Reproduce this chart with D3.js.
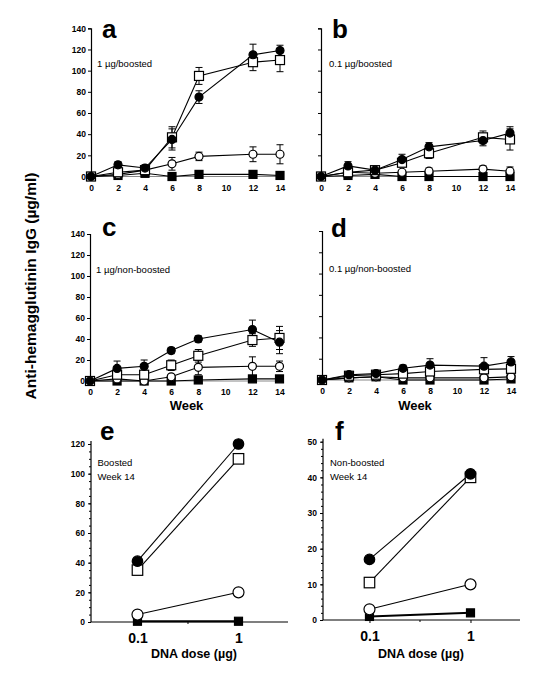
<!DOCTYPE html>
<html><head><meta charset="utf-8">
<script src="https://cdn.jsdelivr.net/npm/d3@7"></script>
<style>body{margin:0;background:#fff}svg{display:block}text{font-family:"Liberation Sans",Arial,sans-serif}</style>
</head><body>
<script>
// ---------- DATA ----------
const weeks = [0, 2, 4, 6, 8, 12, 14];
const weekTicks = [0, 2, 4, 6, 8, 10, 12, 14];
const yTicksTime = [0, 20, 40, 60, 80, 100, 120, 140];

// panel a: 1 ug / boosted
const aFilledCircle = [0, 11, 8, 35, 75, 115, 119];
const aFilledCircleErr = [0, 3, 3, 10, 6, 10, 5];
const aOpenSquare = [0, 4, 6, 37, 95, 108, 110];
const aOpenSquareErr = [0, 2, 2, 10, 8, 8, 11];
const aOpenCircle = [0, 2, 6, 12, 19, 21, 21];
const aOpenCircleErr = [0, 1, 2, 6, 4, 7, 9];
const aFilledSquare = [0, 1, 3, 0, 2, 2, 1];

// panel b: 0.1 ug / boosted
const bFilledCircle = [0, 10, 6, 16, 28, 34, 41];
const bFilledCircleErr = [0, 4, 3, 5, 4, 5, 6];
const bOpenSquare = [0, 4, 6, 13, 22, 37, 35];
const bOpenSquareErr = [0, 2, 2, 3, 5, 6, 10];
const bOpenCircle = [0, 4, 3, 4, 5, 7, 5];
const bOpenCircleErr = [0, 1, 1, 1, 3, 3, 4];
const bFilledSquare = [0, 1, 2, 0, 0, 0, 0];

// panel c: 1 ug / non-boosted
const cFilledCircle = [0, 12, 14, 29, 40, 49, 37];
const cFilledCircleErr = [0, 7, 6, 3, 3, 9, 11];
const cOpenSquare = [0, 6, 6, 15, 24, 39, 41];
const cOpenSquareErr = [0, 2, 3, 5, 6, 6, 11];
const cOpenCircle = [0, 2, 0, 4, 13, 14, 14];
const cOpenCircleErr = [0, 1, 1, 2, 7, 9, 5];
const cFilledSquare = [0, 0, 0, 0, 1, 2, 2];

// panel d: 0.1 ug / non-boosted
const dFilledCircle = [0, 5, 6, 11, 14, 13, 17];
const dFilledCircleErr = [0, 3, 3, 3, 6, 8, 5];
const dOpenSquare = [0, 4, 5, 6, 8, 10, 10.5];
const dOpenSquareErr = [0, 4, 2, 2, 3, 4, 3];
const dOpenCircle = [0, 2, 3, 2, 2, 2, 3];
const dOpenCircleErr = [0, 1, 1, 1, 1, 1, 1];
const dFilledSquare = [0, 2, 3, 0, 0, 0, 1];

// panels e/f: week 14 vs DNA dose
const doses = [0.1, 1];
const doseTicks = [0.1, 1];
const eFilledCircle = [41, 120];
const eOpenSquare = [35, 110];
const eOpenCircle = [5, 20];
const eFilledSquare = [0.5, 0.5];
const eYTicks = [0, 20, 40, 60, 80, 100, 120];
const fFilledCircle = [17, 41];
const fOpenSquare = [10.5, 40];
const fOpenCircle = [3, 10];
const fFilledSquare = [1, 2];
const fYTicks = [0, 10, 20, 30, 40, 50];

// ---------- DRAW ----------
const svg = d3.select("body").append("svg").attr("width", 535).attr("height", 682);
svg.append("rect").attr("width", 535).attr("height", 682).attr("fill", "#fff");

function marker(g, type, cx, cy, size) {
  if (type === "fc" || type === "oc") {
    g.append("circle").attr("cx", cx).attr("cy", cy).attr("r", size / 2)
      .attr("fill", type === "fc" ? "#000" : "#fff").attr("stroke", "#000").attr("stroke-width", 1.2);
  } else {
    g.append("rect").attr("x", cx - size / 2).attr("y", cy - size / 2).attr("width", size).attr("height", size)
      .attr("fill", type === "fs" ? "#000" : "#fff").attr("stroke", "#000").attr("stroke-width", 1.2);
  }
}

function timePanel(p) {
  const g = svg.append("g");
  const x = d3.scaleLinear().domain([0, 14]).range([p.x0, p.x1]);
  const y = d3.scaleLinear().domain([0, 140]).range([p.y0, p.yTop]);
  g.append("line").attr("x1", x(0)).attr("x2", x(14)).attr("y1", y(0)).attr("y2", y(0))
    .attr("stroke", "#888").attr("stroke-width", 1);
  const yAx = d3.axisLeft(y).tickValues(yTicksTime).tickSize(3).tickFormat(p.yLabels ? d3.format("d") : "");
  const ya = g.append("g").attr("transform", `translate(${p.x0},0)`).call(yAx);
  ya.select(".domain").attr("stroke", "#000").attr("stroke-width", 1.2);
  ya.selectAll("text").attr("font-size", 8.5).attr("font-weight", "bold").attr("x", -5);
  const xAx = d3.axisBottom(x).tickValues(weekTicks).tickSize(0).tickPadding(8).tickFormat(d3.format("d"));
  const xa = g.append("g").attr("transform", `translate(0,${p.y0})`).call(xAx);
  xa.select(".domain").remove();
  xa.selectAll("text").attr("font-size", 8.5).attr("font-weight", "bold");
  const series = [
    {v: p.fs, e: null, t: "fs", s: 8},
    {v: p.oc, e: p.ocE, t: "oc", s: 8},
    {v: p.os, e: p.osE, t: "os", s: 9},
    {v: p.fc, e: p.fcE, t: "fc", s: 8}
  ];
  const line = d3.line().x((d, i) => x(weeks[i])).y(d => y(d));
  series.forEach(s => {
    g.append("path").attr("d", line(s.v)).attr("fill", "none").attr("stroke", "#000").attr("stroke-width", 1.1);
  });
  series.forEach(s => {
    if (s.e) {
      s.v.forEach((v, i) => {
        if (!s.e[i]) return;
        const cx = x(weeks[i]);
        const yt = y(v + s.e[i]), yb = y(Math.max(0, v - s.e[i]));
        g.append("line").attr("x1", cx).attr("x2", cx).attr("y1", yt).attr("y2", yb).attr("stroke", "#000").attr("stroke-width", 1);
        [yt, yb].forEach(yy => g.append("line").attr("x1", cx - 3.5).attr("x2", cx + 3.5).attr("y1", yy).attr("y2", yy).attr("stroke", "#000").attr("stroke-width", 1));
      });
    }
  });
  series.forEach(s => {
    s.v.forEach((v, i) => marker(g, s.t, x(weeks[i]), y(v), s.s));
  });
  g.append("text").attr("x", p.lx).attr("y", p.ly).attr("font-size", 26).attr("font-weight", "bold").text(p.letter);
  g.append("text").attr("x", p.tx).attr("y", p.ty).attr("font-size", 9.5).text(p.label);
}

timePanel({x0: 91, x1: 280, y0: 176.5, yTop: 28.3, yLabels: true,
  fc: aFilledCircle, fcE: aFilledCircleErr, os: aOpenSquare, osE: aOpenSquareErr,
  oc: aOpenCircle, ocE: aOpenCircleErr, fs: aFilledSquare,
  letter: "a", lx: 102, ly: 38, label: "1 \u00b5g/boosted", tx: 97, ty: 66.5});
timePanel({x0: 321, x1: 510, y0: 176.5, yTop: 28.3, yLabels: false,
  fc: bFilledCircle, fcE: bFilledCircleErr, os: bOpenSquare, osE: bOpenSquareErr,
  oc: bOpenCircle, ocE: bOpenCircleErr, fs: bFilledSquare,
  letter: "b", lx: 332, ly: 38, label: "0.1 \u00b5g/boosted", tx: 329, ty: 66.5});
timePanel({x0: 90, x1: 279.5, y0: 381, yTop: 234, yLabels: true,
  fc: cFilledCircle, fcE: cFilledCircleErr, os: cOpenSquare, osE: cOpenSquareErr,
  oc: cOpenCircle, ocE: cOpenCircleErr, fs: cFilledSquare,
  letter: "c", lx: 102, ly: 236, label: "1 \u00b5g/non-boosted", tx: 96, ty: 272.5});
timePanel({x0: 322, x1: 511, y0: 380, yTop: 231, yLabels: false,
  fc: dFilledCircle, fcE: dFilledCircleErr, os: dOpenSquare, osE: dOpenSquareErr,
  oc: dOpenCircle, ocE: dOpenCircleErr, fs: dFilledSquare,
  letter: "d", lx: 331, ly: 237, label: "0.1 \u00b5g/non-boosted", tx: 329, ty: 271.5});

svg.append("text").attr("x", 186.5).attr("y", 410).attr("text-anchor", "middle").attr("font-size", 13).attr("font-weight", "bold").text("Week");
svg.append("text").attr("x", 415).attr("y", 410).attr("text-anchor", "middle").attr("font-size", 13).attr("font-weight", "bold").text("Week");

function dosePanel(p) {
  const g = svg.append("g");
  const x = d3.scaleLog().domain([Math.pow(10, -1.46), Math.pow(10, 0.49)]).range([p.x0, p.x1]);
  const y = d3.scaleLinear().domain([0, p.yMax]).range([p.y0, p.yTop]);
  const minor = d3.range(0, p.yMax + 0.001, p.minor);
  g.append("g").attr("transform", `translate(${p.x0},0)`)
    .call(d3.axisLeft(y).tickValues(minor).tickSize(2).tickFormat(""))
    .select(".domain").remove();
  const ya = g.append("g").attr("transform", `translate(${p.x0},0)`)
    .call(d3.axisLeft(y).tickValues(p.ticks).tickSize(3).tickFormat(d3.format("d")));
  ya.select(".domain").attr("stroke", "#000").attr("stroke-width", 1.2)
    .attr("d", `M0,${y(0)}V${y(p.yMax) - 3}`);
  ya.selectAll("text").attr("font-size", 8.5).attr("font-weight", "bold").attr("x", -6);
  const xa = g.append("g").attr("transform", `translate(0,${p.y0})`)
    .call(d3.axisBottom(x).tickValues(doseTicks).tickSize(3).tickPadding(8).tickFormat(d => d === 1 ? "1" : "0.1"));
  xa.select(".domain").attr("stroke", "#000").attr("stroke-width", 1.2).attr("d", `M${p.x0},0H${p.x1}`);
  xa.selectAll("text").attr("font-size", 14).attr("font-weight", "bold");
  xa.append("line").attr("x1", x(Math.sqrt(0.1))).attr("x2", x(Math.sqrt(0.1))).attr("y1", 0).attr("y2", 2).attr("stroke", "#000");
  const series = [
    {v: p.fs, t: "fs", s: 8, w: 2},
    {v: p.oc, t: "oc", s: 11, w: 1.1},
    {v: p.os, t: "os", s: 10.5, w: 1.1},
    {v: p.fc, t: "fc", s: 10.5, w: 1.1}
  ];
  const line = d3.line().x((d, i) => x(doses[i])).y(d => y(d));
  series.forEach(s => g.append("path").attr("d", line(s.v)).attr("fill", "none").attr("stroke", "#000").attr("stroke-width", s.w));
  series.forEach(s => s.v.forEach((v, i) => marker(g, s.t, x(doses[i]), y(v), s.s)));
  g.append("text").attr("x", p.lx).attr("y", p.ly).attr("font-size", 26).attr("font-weight", "bold").text(p.letter);
  g.append("text").attr("x", p.tx).attr("y", p.ty).attr("font-size", 9.5).text(p.label1);
  g.append("text").attr("x", p.tx).attr("y", p.ty + 14).attr("font-size", 9.5).text("Week 14");
  g.append("text").attr("x", p.cx).attr("y", 658).attr("text-anchor", "middle").attr("font-size", 12.5).attr("font-weight", "bold").text("DNA dose (\u00b5g)");
}

dosePanel({x0: 91, x1: 288, y0: 622, yTop: 444, yMax: 120, ticks: eYTicks, minor: 5,
  fc: eFilledCircle, os: eOpenSquare, oc: eOpenCircle, fs: eFilledSquare,
  letter: "e", lx: 100, ly: 440, tx: 97.5, ty: 466, label1: "Boosted", cx: 194});
dosePanel({x0: 323, x1: 520, y0: 620, yTop: 441.7, yMax: 50, ticks: fYTicks, minor: 2,
  fc: fFilledCircle, os: fOpenSquare, oc: fOpenCircle, fs: fFilledSquare,
  letter: "f", lx: 335, ly: 440, tx: 330, ty: 466, label1: "Non-boosted", cx: 421});

svg.append("text").attr("transform", "translate(36,286) rotate(-90)").attr("text-anchor", "middle")
  .attr("font-size", 15.5).attr("font-weight", "bold").text("Anti-hemagglutinin IgG (\u00b5g/ml)");
</script>
</body></html>
